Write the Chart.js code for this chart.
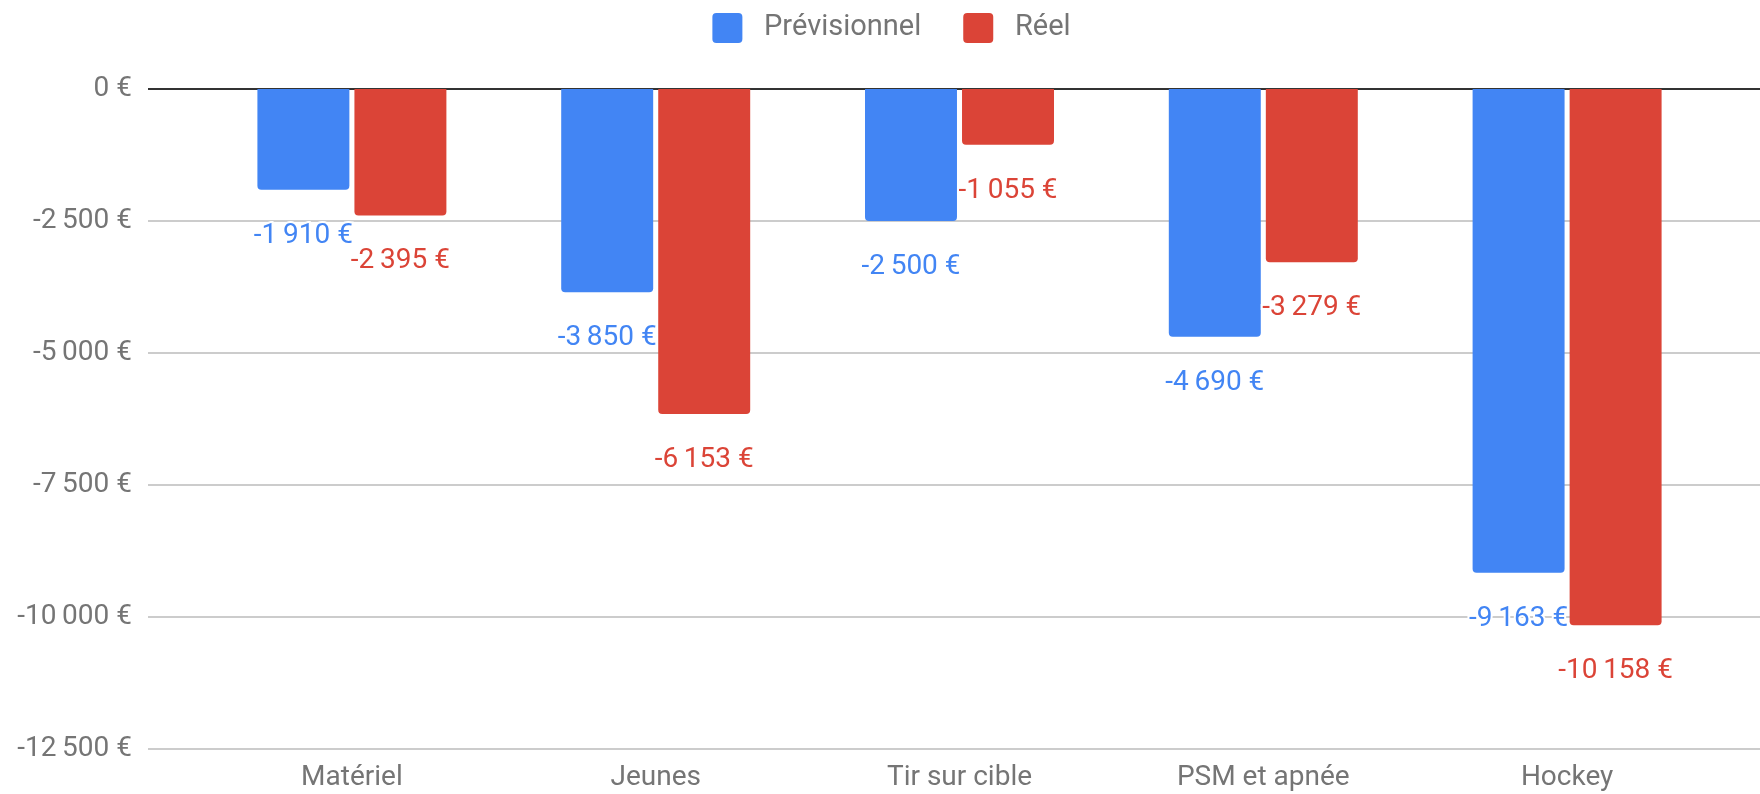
<!DOCTYPE html>
<html>
<head>
<meta charset="utf-8">
<script src="https://cdn.jsdelivr.net/npm/chart.js@4"></script>
<style>
  html, body { margin: 0; padding: 0; background: #fff; }
  #wrap { position: relative; width: 1760px; height: 794px; }
</style>
</head>
<body>
<div id="wrap"><canvas id="myChart"></canvas></div>
<script>
// data
const categories = ['Matériel', 'Jeunes', 'Tir sur cible', 'PSM et apnée', 'Hockey'];
const previsionnel = [-1910, -3850, -2500, -4690, -9163];
const reel = [-2395, -6153, -1055, -3279, -10158];
const yTicks = [0, -2500, -5000, -7500, -10000, -12500];

const BLUE = '#4285F4';
const RED = '#DB4437';
const FONT = 'Roboto';

// "-2 500 €" style, thin space between thousands
function euro(v) {
  const s = Math.abs(v).toString().replace(/\B(?=(\d{3})+(?!\d))/g, '\u2009');
  return (v < 0 ? '-' : '') + s + ' €';
}

// legend keeps its compact drawing but reserves more room above the plot,
// and is centred a bit right of the canvas middle like the original
const legendSpace = {
  id: 'legendSpace',
  beforeLayout(chart) {
    const lg = chart.legend;
    if (lg && !lg._spaced) {
      const fit = lg.fit;
      lg.fit = function () {
        fit.call(this);
        this.height = 118;
      };
      lg._spaced = true;
    }
  },
  afterLayout(chart) {
    if (chart.legend) chart.legend.left = 64;
  },
};

// horizontal grid lines running wider than the bar area (like the Google chart)
const gridPlugin = {
  id: 'wideGrid',
  beforeDatasetsDraw(chart) {
    const y = chart.scales.y;
    const c = chart.ctx;
    c.save();
    yTicks.forEach(t => {
      const py = Math.round(y.getPixelForValue(t));
      c.beginPath();
      c.strokeStyle = t === 0 ? '#333333' : '#cccccc';
      c.lineWidth = 2;
      c.moveTo(148, py);
      c.lineTo(chart.width, py);
      c.stroke();
    });
    c.restore();
  },
};

// value labels under each bar end
const labelPlugin = {
  id: 'barLabels',
  afterDatasetsDraw(chart) {
    const c = chart.ctx;
    c.save();
    c.font = '28px ' + FONT;
    c.textAlign = 'center';
    c.textBaseline = 'middle';
    chart.data.datasets.forEach((ds, i) => {
      chart.getDatasetMeta(i).data.forEach((bar, j) => {
        const txt = euro(ds.data[j]);
        c.lineWidth = 4;
        c.strokeStyle = '#ffffff';
        c.strokeText(txt, bar.x, bar.y + 46);
        c.fillStyle = ds.backgroundColor;
        c.fillText(txt, bar.x, bar.y + 46);
      });
    });
    c.restore();
  },
};

const data = {
  labels: categories,
  datasets: [
    {
      label: 'Prévisionnel',
      backgroundColor: BLUE,
      data: previsionnel,
    },
    {
      label: 'Réel',
      backgroundColor: RED,
      data: reel,
    },
  ],
};

const config = {
  type: 'bar',
  data: data,
  options: {
    responsive: true,
    maintainAspectRatio: false,
    animation: false,
    layout: {
      padding: { top: -29, right: 41, left: 0, bottom: 0 },
    },
    datasets: {
      bar: {
        categoryPercentage: 0.6387,
        barPercentage: 0.948,
        borderRadius: 4,
        borderSkipped: 'start',
      },
    },
    plugins: {
      tooltip: { enabled: false },
      legend: {
        position: 'top',
        labels: {
          font: { family: FONT, size: 29 },
          color: '#757575',
          boxWidth: 30,
          boxHeight: 30,
          padding: 42,
          useBorderRadius: true,
          borderRadius: 4,
          generateLabels: chart => {
            const items = Chart.defaults.plugins.legend.labels.generateLabels(chart);
            items.forEach(it => { it.text = ' ' + it.text; });
            return items;
          },
        },
      },
    },
    scales: {
      x: {
        afterFit: s => {
          s.height = 45;
        },
        grid: { display: false, drawTicks: false },
        border: { display: false },
        ticks: {
          font: { family: FONT, size: 28 },
          color: '#757575',
          padding: 12,
          maxRotation: 0,
        },
      },
      y: {
        min: -12500,
        max: 0,
        afterBuildTicks: s => {
          s.ticks = yTicks.map(v => ({ value: v }));
        },
        afterFit: s => {
          s.width = 200;
          s.paddingTop = 17;
          s.paddingBottom = 17;
        },
        grid: { display: false, drawTicks: false },
        border: { display: false },
        ticks: {
          font: { family: FONT, size: 28 },
          color: '#757575',
          padding: 68,
          callback: v => euro(v),
        },
      },
    },
  },
  plugins: [legendSpace, gridPlugin, labelPlugin],
};

const myChart = new Chart(document.getElementById('myChart'), config);
</script>
</body>
</html>
